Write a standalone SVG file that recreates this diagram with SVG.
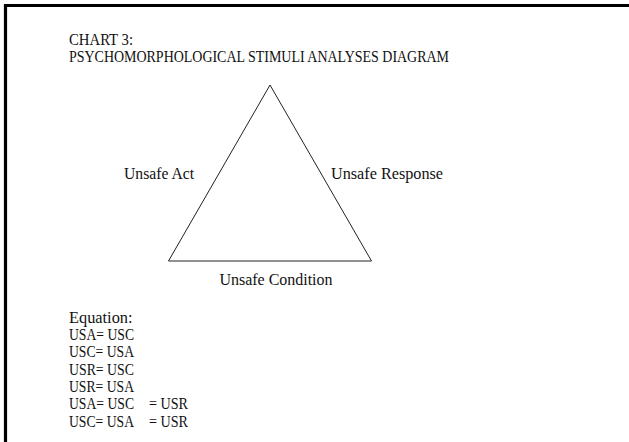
<svg xmlns="http://www.w3.org/2000/svg" width="629" height="442" viewBox="0 0 629 442">
<style>
text{font-family:"Liberation Serif","DejaVu Serif",serif;font-size:16px;fill:#111}
</style>
<rect width="629" height="442" fill="#fff"/>
<path d="M5.5,442 V5.5 H629" fill="none" stroke="#000" stroke-width="3.2"/>
<g id="title">
<text x="69" y="45" textLength="64" lengthAdjust="spacingAndGlyphs">CHART 3:</text>
<text x="69" y="61.5" textLength="380" lengthAdjust="spacingAndGlyphs">PSYCHOMORPHOLOGICAL STIMULI ANALYSES DIAGRAM</text>
</g>
<g id="triangle">
<polygon points="270,85 168.5,261 371.5,261" fill="none" stroke="#222" stroke-width="1"/>
</g>
<g id="labels">
<text id="act" x="124" y="178.5" textLength="70" lengthAdjust="spacingAndGlyphs">Unsafe Act</text>
<text id="response" x="331" y="179" textLength="112" lengthAdjust="spacingAndGlyphs">Unsafe Response</text>
<text id="condition" x="219.5" y="285" textLength="113" lengthAdjust="spacingAndGlyphs">Unsafe Condition</text>
</g>
<g id="equations">
<text x="69" y="323" textLength="63.5" lengthAdjust="spacingAndGlyphs">Equation:</text>
<text x="69" y="340" textLength="65" lengthAdjust="spacingAndGlyphs">USA= USC</text>
<text x="69" y="357.3" textLength="65" lengthAdjust="spacingAndGlyphs">USC= USA</text>
<text x="69" y="374.6" textLength="65" lengthAdjust="spacingAndGlyphs">USR= USC</text>
<text x="69" y="391.9" textLength="65" lengthAdjust="spacingAndGlyphs">USR= USA</text>
<text x="69" y="409.2" textLength="65" lengthAdjust="spacingAndGlyphs">USA= USC</text>
<text x="149" y="409.2" textLength="39" lengthAdjust="spacingAndGlyphs">= USR</text>
<text x="69" y="426.5" textLength="65" lengthAdjust="spacingAndGlyphs">USC= USA</text>
<text x="149" y="426.5" textLength="39" lengthAdjust="spacingAndGlyphs">= USR</text>
</g>
</svg>
